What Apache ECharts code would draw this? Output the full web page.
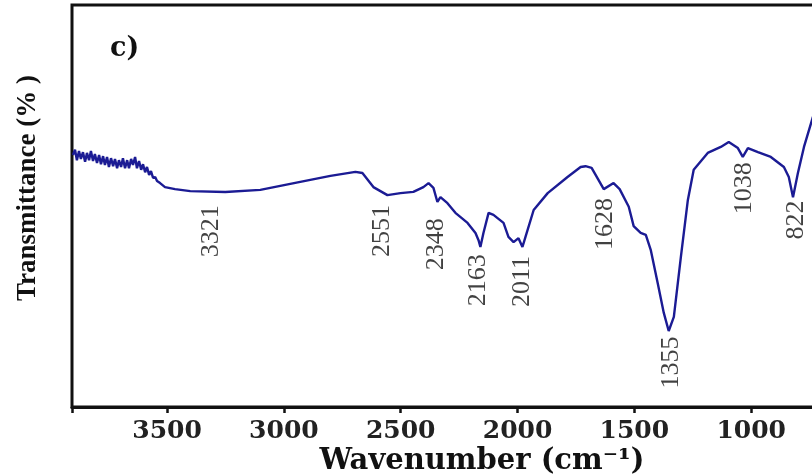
<!DOCTYPE html>
<html><head><meta charset="utf-8">
<script src="https://cdn.jsdelivr.net/npm/echarts@6/dist/echarts.min.js"></script>
<style>html,body{margin:0;padding:0;background:#fff}#c{width:812px;height:475px}</style>
</head><body><div id="c"></div>
<script>
// FTIR spectrum, panel c)
const wavenumber = [
  3903, 3894, 3886, 3877, 3869, 3860, 3851, 3843, 3834, 3826, 3817, 3809, 3800, 3791, 3783, 3774,
  3766, 3757, 3749, 3740, 3731, 3723, 3714, 3706, 3697, 3689, 3680, 3671, 3663, 3654, 3646, 3637,
  3629, 3620, 3611, 3603, 3594, 3586, 3577, 3569, 3560, 3551, 3543, 3530, 3509, 3466, 3401, 3251,
  3101, 2930, 2801, 2694, 2664, 2617, 2557, 2501, 2446, 2403, 2381, 2360, 2343, 2330, 2300, 2266,
  2214, 2180, 2167, 2159, 2146, 2124, 2103, 2060, 2039, 2017, 1996, 1979, 1966, 1931, 1871, 1786,
  1730, 1709, 1683, 1631, 1589, 1563, 1524, 1503, 1473, 1451, 1430, 1400, 1374, 1353, 1331, 1301,
  1271, 1246, 1186, 1130, 1096, 1057, 1036, 1014, 971, 916, 860, 839, 821, 800, 774, 736, 701
];
const transmittance = [
  62.7, 64.0, 61.4, 63.7, 61.7, 63.4, 61.0, 63.2, 61.4, 63.7, 61.2, 62.9, 60.7, 62.7, 60.4, 62.4,
  60.2, 62.2, 59.7, 61.9, 59.9, 61.7, 59.4, 61.4, 59.7, 61.9, 59.4, 61.4, 59.4, 61.7, 60.2, 62.2,
  59.4, 61.2, 59.0, 60.4, 58.4, 59.7, 57.7, 58.7, 57.0, 57.2, 56.2, 55.7, 54.7, 54.2, 53.7, 53.5,
  54.0, 56.0, 57.5, 58.5, 58.2, 54.7, 52.7, 53.2, 53.5, 54.7, 55.7, 54.5, 51.0, 52.2, 50.7, 48.3,
  45.8, 43.3, 41.5, 39.8, 43.3, 48.3, 47.8, 45.8, 42.3, 41.0, 42.0, 39.8, 42.3, 49.0, 53.2, 57.2,
  59.7, 59.9, 59.5, 54.2, 55.7, 54.2, 49.8, 45.0, 43.3, 42.8, 39.1, 30.8, 23.4, 18.9, 22.4, 37.3,
  51.5, 59.0, 63.2, 64.7, 65.9, 64.4, 62.2, 64.4, 63.4, 62.2, 59.7, 57.2, 52.2, 58.2, 64.7, 72.1, 77.6
];
const peakLabels = ['3321', '2551', '2348', '2163', '2011', '1628', '1355', '1038', '822'];
const peakLabelX = [3311, 2579, 2347, 2167, 1979, 1627, 1344, 1031, 809];
const peakLabelY = [43.7, 43.8, 40.5, 31.5, 31.2, 45.5, 11.1, 54.4, 46.5];
const xTicks = [3500, 3000, 2500, 2000, 1500, 1000];
const panelLabel = 'c)';
const xTitle = 'Wavenumber (cm\u207B\u00B9)';
const yTitle = 'Transmittance (% )';

const chart = echarts.init(document.getElementById('c'), null, {renderer: 'canvas'});
chart.setOption({
  animation: false,
  backgroundColor: '#ffffff',
  title: {
    text: panelLabel, left: 110, top: 35, padding: 0,
    textStyle: {fontFamily: 'DejaVu Serif', fontWeight: 'bold', fontSize: 27, color: '#111'}
  },
  grid: {
    left: 72, right: -56, top: 5, bottom: 68, outerBoundsMode: 'none', containLabel: false,
    show: true, borderColor: '#111', borderWidth: 3, backgroundColor: 'transparent'
  },
  xAxis: {
    type: 'value', inverse: true, min: 500, max: 3907, interval: 500,
    axisLine: {show: true, onZero: false, lineStyle: {color: '#111', width: 3}},
    axisTick: {show: true, inside: false, length: 6, lineStyle: {color: '#111', width: 2.5}},
    axisLabel: {
      margin: 12, fontFamily: 'DejaVu Serif', fontWeight: 'bold', fontSize: 25, color: '#222',
      hideOverlap: false,
      formatter: v => xTicks.includes(v) ? String(v) : ''
    },
    splitLine: {show: false},
    name: xTitle, nameLocation: 'middle', nameGap: 40, nameMoveOverlap: false,
    nameTextStyle: {fontFamily: 'DejaVu Serif', fontWeight: 'bold', fontSize: 29, color: '#111', padding: [0, 0, 0, 24]}
  },
  yAxis: {
    type: 'value', min: 0, max: 100,
    axisLine: {show: false}, axisTick: {show: false}, axisLabel: {show: false}, splitLine: {show: false},
    name: yTitle, nameLocation: 'middle', nameRotate: 90, nameGap: 30, nameMoveOverlap: false,
    nameTextStyle: {fontFamily: 'Liberation Serif', fontWeight: 'bold', fontSize: 27, color: '#111', padding: [0, 0, 0, 36]}
  },
  series: [
    {
      type: 'line', showSymbol: false, clip: true,
      data: wavenumber.map((w, i) => [w, transmittance[i]]),
      lineStyle: {color: '#1b1b94', width: 2.4}
    },
    {
      type: 'scatter', symbolSize: 1, itemStyle: {color: 'transparent'}, silent: true,
      data: peakLabelX.map((w, i) => [w, peakLabelY[i]]),
      label: {
        show: true, position: 'inside', rotate: 90, align: 'center', verticalAlign: 'middle',
        fontFamily: 'Liberation Serif', fontSize: 26, color: '#111',
        formatter: p => peakLabels[p.dataIndex]
      }
    }
  ]
});
</script>
</body></html>
